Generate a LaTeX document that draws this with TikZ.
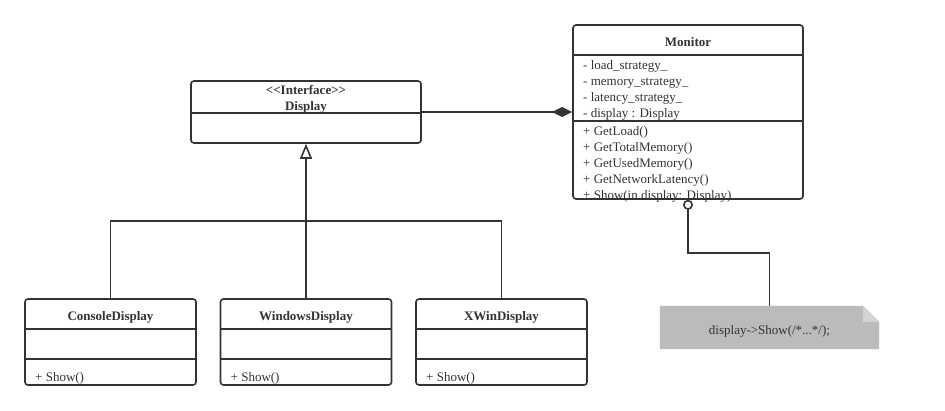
\documentclass[tikz,border=0pt]{standalone}
\usepackage{fontspec}
\setmainfont{Liberation Serif}
\usetikzlibrary{arrows.meta,calc}
\definecolor{ink}{HTML}{333333}
\definecolor{notegray}{HTML}{BBBBBB}
\definecolor{foldgray}{HTML}{D4D4D4}
\tikzset{
  classbox/.style={draw=ink, line width=1.6pt, rounded corners=3pt, inner sep=0pt, minimum width=#1},
  divider/.style={draw=ink, line width=1.6pt},
  conn/.style={draw=ink, line width=1.6pt},
  txt/.style={font=\fontsize{13}{16}\selectfont, text=ink, inner sep=0pt, anchor=base west},
  ttl/.style={font=\fontsize{13}{16}\selectfont\bfseries, text=ink, inner sep=0pt, anchor=base},
}
\begin{document}
\begin{tikzpicture}[x=1pt,y=-1pt]
\useasboundingbox (0,0) rectangle (945,410);
\fill[white] (0,0) rectangle (945,410);

% Monitor
\node[classbox=230, minimum height=174] (mon) at (688,112) {};
\draw[divider] (mon.west |- 0,55) -- (mon.east |- 0,55);
\draw[divider] (mon.west |- 0,121) -- (mon.east |- 0,121);
\node[ttl] (monT) at (688,46) {Monitor};
\node[txt] (a1) at (583,69) {- load\_strategy\_};
\node[txt] (a2) at (583,85) {- memory\_strategy\_};
\node[txt] (a3) at (583,101) {- latency\_strategy\_};
\node[txt] (a4) at (583,117) {- display : Display};
\node[txt] (m1) at (583,135) {+ GetLoad()};
\node[txt] (m2) at (583,151) {+ GetTotalMemory()};
\node[txt] (m3) at (583,167) {+ GetUsedMemory()};
\node[txt] (m4) at (583,183) {+ GetNetworkLatency()};
\node[txt] (m5) at (583,199) {+ Show(in display: Display)};

% Display interface
\node[classbox=230, minimum height=62] (disp) at (306,112) {};
\draw[divider] (disp.west |- 0,113) -- (disp.east |- 0,113);
\node[ttl] (dispS) at (306,94) {{<}{<}Interface{>}{>}};
\node[ttl] (dispT) at (306,110) {Display};

% Subclasses
\node[classbox=171, minimum height=86] (cons) at (110.5,342) {};
\node[classbox=171, minimum height=86] (win) at (306,342) {};
\node[classbox=171, minimum height=86] (xwin) at (501.5,342) {};
\foreach \b in {cons,win,xwin}{
  \draw[divider] (\b.west |- 0,329) -- (\b.east |- 0,329);
  \draw[divider] (\b.west |- 0,359) -- (\b.east |- 0,359);
}
\node[ttl] (consT) at (110.5,320) {ConsoleDisplay};
\node[ttl] (winT) at (306,320) {WindowsDisplay};
\node[ttl] (xwinT) at (501.5,320) {XWinDisplay};
\node[txt] (consM) at (35,381) {+ Show()};
\node[txt] (winM) at (230.5,381) {+ Show()};
\node[txt] (xwinM) at (426,381) {+ Show()};

% Note
\node[minimum width=219, minimum height=43, inner sep=0pt] (note) at (769.5,327.5) {};
\fill[notegray] (note.north west) -- ($(note.north east)+(-16,0)$) -- ($(note.north east)+(0,16)$) -- (note.south east) -- (note.south west) -- cycle;
\fill[foldgray] ($(note.north east)+(-16,0)$) -- ($(note.north east)+(-16,16)$) -- ($(note.north east)+(0,16)$) -- cycle;
\node[txt, anchor=base] (noteT) at (769.5,334) {display->Show(/*...*/);};

% Connectors
\draw[conn, -{Diamond[length=20pt,width=10pt,fill=ink]}] (disp.east) -- (disp.east -| mon.west);
\coordinate (j) at (306,221);
\draw[conn] (cons.north) |- (j) -| (xwin.north);
\draw[conn, -{Triangle[open,length=15pt,width=12pt,fill=white]}] (win.north) -- (disp.south);
\draw[conn, {Circle[open,length=10pt,width=10pt,fill=white]}-] (mon.south) -- ++(0,53) -| (note.north);
\end{tikzpicture}
\end{document}
